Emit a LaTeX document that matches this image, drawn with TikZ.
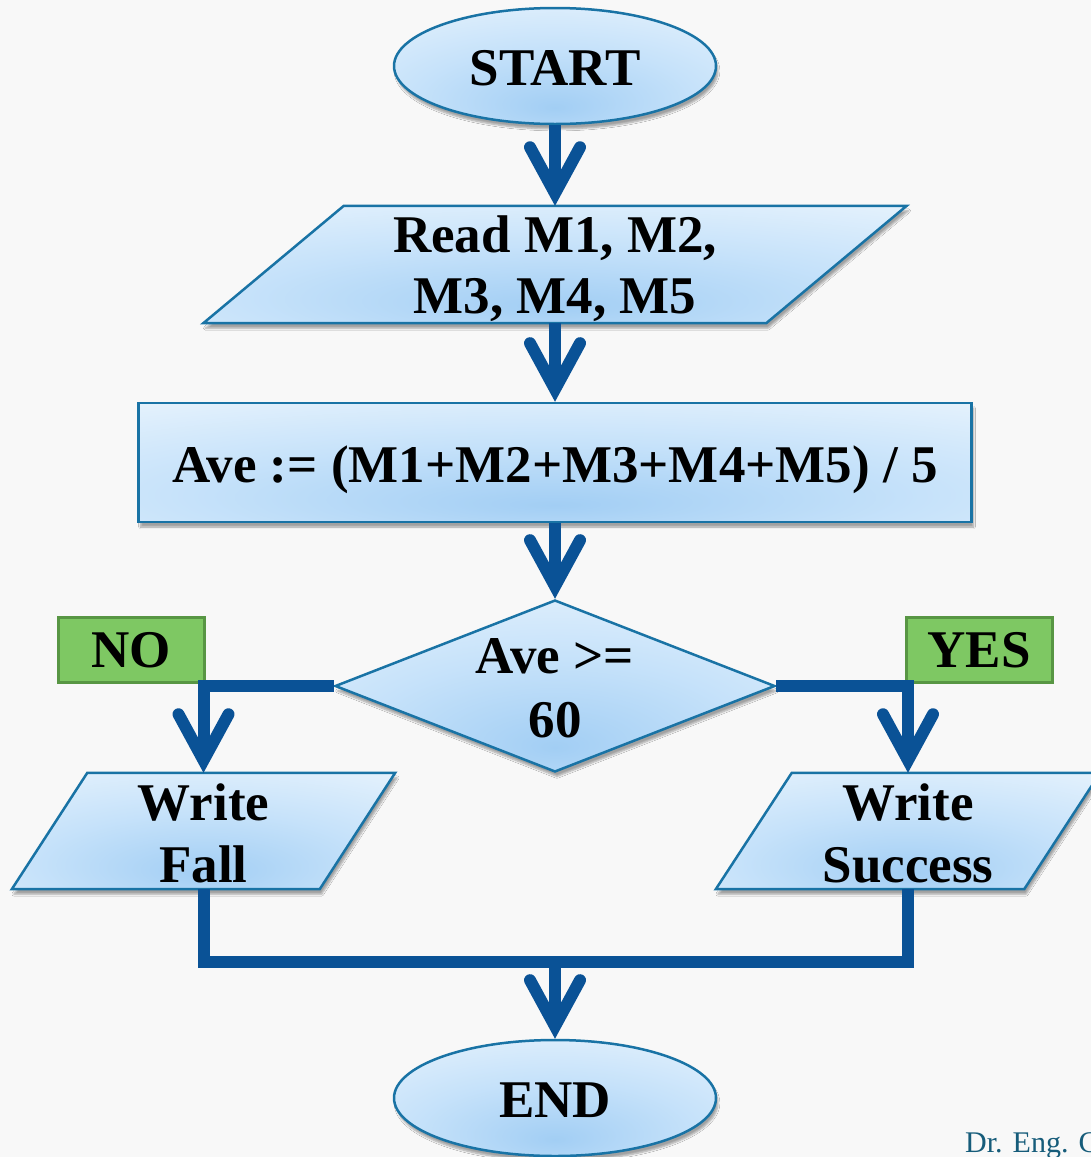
\documentclass[tikz,border=0pt]{standalone}
\usepackage{fontspec}
\setmainfont{Liberation Serif}
\usetikzlibrary{shapes.geometric, arrows.meta, shadows.blur, calc}

\definecolor{edgeblue}{RGB}{25,115,165}
\definecolor{flowblue}{RGB}{10,82,150}
\definecolor{boxgreen}{RGB}{126,200,99}
\definecolor{boxgreenedge}{RGB}{88,150,68}
\definecolor{fillhi}{RGB}{235,245,253}
\definecolor{fillmid}{RGB}{198,226,250}
\definecolor{filllo}{RGB}{162,206,244}
\definecolor{pagebg}{RGB}{248,248,248}
\definecolor{signcol}{RGB}{22,92,122}

% soft blue fill, darkest a little below the middle of each shape
\pgfdeclareradialshading{glassfill}{\pgfpoint{0bp}{-18bp}}{%
  color(0bp)=(filllo); color(22bp)=(fillmid); color(48bp)=(fillhi); color(100bp)=(fillhi)}

% two centred lines, baseline on the first one
\newcommand\stackedtext[3][0pt]{\begin{tabular}[t]{@{}c@{}}#2\\[#1]#3\end{tabular}}

% parallelogram filling the frame of an input/output node: top edge shifted right by #2
\newcommand\slantbox[2]{%
  \path[glass] ($(#1.north west)+(#2,0)$) -- (#1.north east)
    -- ($(#1.south east)-(#2,0)$) -- (#1.south west) -- cycle;}

\tikzset{
  every node/.style={font=\bfseries\fontsize{53}{62}\selectfont, inner sep=0pt},
  glass/.style={draw=edgeblue, line width=2.5pt, shade, shading=glassfill,
    blur shadow={shadow xshift=2pt, shadow yshift=-5pt, shadow blur steps=6, shadow opacity=35}},
  terminal/.style={glass, ellipse, minimum width=322pt, minimum height=116pt,
    text height=38pt, text depth=0pt},
  iobox/.style={rectangle},
  iotext/.style={text height=40pt},
  procbox/.style={glass, rectangle, minimum width=833pt, minimum height=119pt,
    text height=39pt, text depth=0pt},
  decision/.style={glass, diamond, aspect=2.56, minimum width=440pt, minimum height=172pt,
    text height=40pt, text depth=66pt},
  answer/.style={draw=boxgreenedge, fill=boxgreen, line width=3pt,
    minimum width=146pt, minimum height=65pt},
  flow/.style={draw=flowblue, line width=12pt},
  flowarrow/.style={flow, -{Straight Barb[length=46pt, width=50pt, line cap=round, line join=miter]}},
}

\begin{document}
\begin{tikzpicture}[x=1pt, y=-1pt]
  \useasboundingbox (0,0) rectangle (1091,1157);
  \fill[pagebg] (0,0) rectangle (1091,1157);

  % flowchart boxes
  \node[terminal] (start) at (555,66) {START};

  \node[iobox, minimum width=703pt, minimum height=117pt] (read) at (555,264.5) {};
  \slantbox{read}{140.5}
  \node[iotext, text depth=65pt] (readtext) at (read) {\stackedtext[-1pt]{Read M1, M2,}{M3, M4, M5}};

  \node[procbox] (ave) at (555,462.5) {Ave := (M1+M2+M3+M4+M5) / 5};
  \node[decision] (test) at (555,686) {\stackedtext[2pt]{Ave >=}{60}};
  \node[answer] (no) at (131,650) {NO};
  \node[answer] (yes) at (979,650) {YES};

  \node[iobox, minimum width=383pt, minimum height=116pt] (fail) at (203.5,831) {};
  \slantbox{fail}{75.5}
  \node[iotext, text depth=62pt] (failtext) at (fail) {\stackedtext{Write}{Fall}};

  \node[iobox, minimum width=384pt, minimum height=116pt] (succ) at (908,831) {};
  \slantbox{succ}{76}
  \node[iotext, text depth=62pt] (succtext) at (succ) {\stackedtext{Write}{Success}};

  \node[terminal] (end) at (555,1098) {END};
  \coordinate (merge) at (555,962);

  % connectors
  \draw[flowarrow] (start) -- (read);
  \draw[flowarrow] (read) -- (ave);
  \draw[flowarrow] (ave) -- (test);
  \draw[flowarrow] (test.west) -| (fail);
  \draw[flowarrow] (test.east) -| (succ);
  \draw[flow] (fail) |- (merge) -| (succ);
  \draw[flowarrow] (merge) -- (end);

  % author line
  \node[font=\fontsize{30}{30}\selectfont, text=signcol, anchor=base west] (sig) at (965,1152) {Dr. Eng. C};
\end{tikzpicture}
\end{document}
